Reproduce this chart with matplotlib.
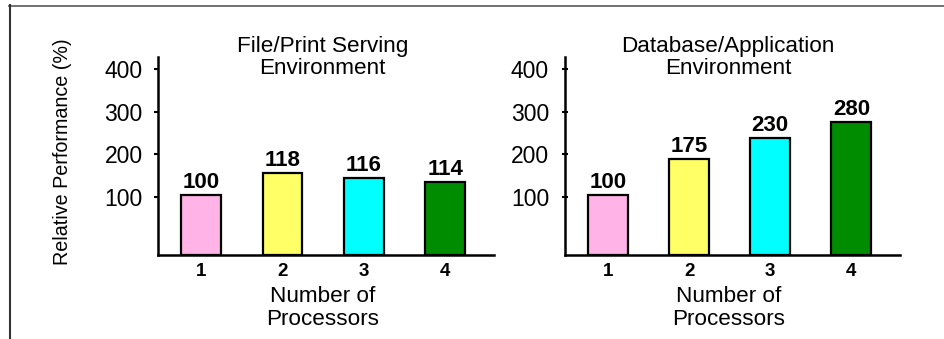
import matplotlib
matplotlib.use("Agg")
import matplotlib.pyplot as plt
from matplotlib.lines import Line2D

plt.rcParams['font.family'] = ['Liberation Sans', 'DejaVu Sans']

processors = [1, 2, 3, 4]
tick_labels = ["1", "2", "3", "4"]
yticks = [100, 200, 300, 400]
colors = ["#FFB3E6", "#FFFF66", "#00FFFF", "#008C00"]

fileprint_heights = [104, 155, 143, 135]
fileprint_labels = ["100", "118", "116", "114"]
database_heights = [104, 189, 237, 276]
database_labels = ["100", "175", "230", "280"]

titles = ["File/Print Serving\nEnvironment", "Database/Application\nEnvironment"]

W, H = 944, 339
YMIN, YMAX = -37.2, 428.7
fig = plt.figure(figsize=(W / 100, H / 100), dpi=100)

def px(x0, y0, x1, y1):
    return [x0 / W, 1 - y1 / H, (x1 - x0) / W, (y1 - y0) / H]

panels = [
    (px(158, 57, 494, 255), fileprint_heights, fileprint_labels, titles[0], 'out', 322.7),
    (px(565, 57, 900, 255), database_heights, database_labels, titles[1], 'inout', 728.3),
]

for rect, heights, labels, title, tdir, cx in panels:
    ax = fig.add_axes(rect)
    bars = ax.bar(processors, [h - YMIN for h in heights], bottom=YMIN, width=0.49,
                  color=colors, edgecolor='black', linewidth=1.6, zorder=3)
    for x, h, lab in zip(processors, heights, labels):
        ax.annotate(lab, (x, h), xytext=(0, 1.5), textcoords='offset points',
                    ha='center', va='bottom', fontsize=16, fontweight='bold')
    ax.set_xlim(0.47, 4.6)
    ax.set_ylim(YMIN, YMAX)
    ax.set_xticks(processors)
    ax.set_xticklabels(tick_labels, fontsize=13.5, fontweight='bold')
    ax.set_yticks(yticks)
    ax.set_yticklabels([str(v) for v in yticks], fontsize=16.5)
    ax.tick_params(axis='x', length=0, pad=6)
    if tdir == 'out':
        ax.tick_params(axis='y', direction='out', length=3, width=1.5, pad=8)
    else:
        ax.tick_params(axis='y', direction='inout', length=5, width=1.5, pad=9)
    for s in ['top', 'right']:
        ax.spines[s].set_visible(False)
    for s in ['left', 'bottom']:
        ax.spines[s].set_linewidth(1.8)
    ax.set_facecolor('none')
    fig.text(cx / W, 1 - 57.5 / H, title, ha='center', va='center',
             multialignment='center', fontsize=16.2, linespacing=1.12)
    fig.text(cx / W, 1 - 308 / H, "Number of\nProcessors", ha='center',
             va='center', multialignment='center', fontsize=16.2, linespacing=1.12)

fig.text(62 / W, 1 - 151.5 / H, "Relative Performance (%)", rotation=90,
         ha='center', va='center', fontsize=14.2)

# frame lines
fig.add_artist(Line2D([9 / W, 1.0], [1 - 5.5 / H, 1 - 5.5 / H],
                      transform=fig.transFigure, color='#666666', linewidth=1.3))
fig.add_artist(Line2D([9.5 / W, 9.5 / W], [1 - 5 / H, 0.0],
                      transform=fig.transFigure, color='#333333', linewidth=1.5))

fig.savefig("out.png", dpi=100)
